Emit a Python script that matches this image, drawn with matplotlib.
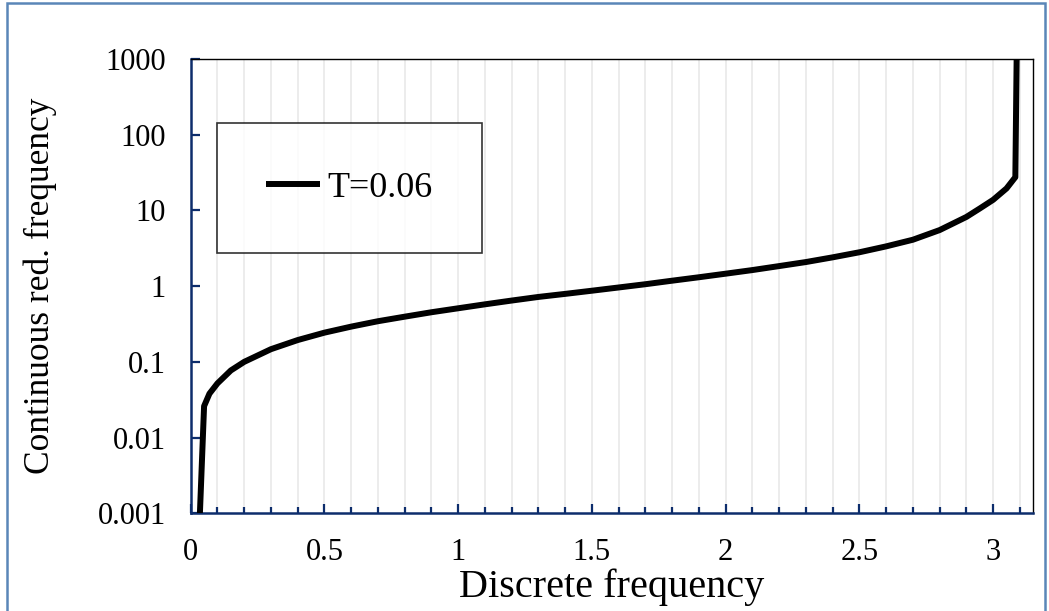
import matplotlib
matplotlib.use("Agg")
import matplotlib.pyplot as plt
from matplotlib.patches import Rectangle
from matplotlib.ticker import MultipleLocator, FixedLocator, FixedFormatter

# values
disc_freq = [0.03, 0.05, 0.07, 0.1, 0.15, 0.2, 0.3, 0.4, 0.5, 0.6, 0.7, 0.8, 0.9,
             1.0, 1.1, 1.2, 1.3, 1.4, 1.5, 1.6, 1.7, 1.8, 1.9, 2.0, 2.1, 2.2,
             2.3, 2.4, 2.5, 2.6, 2.7, 2.8, 2.9, 2.95, 3.0, 3.05, 3.083, 3.094]
cont_freq = [0.0004, 0.026, 0.038, 0.052, 0.077, 0.1, 0.147, 0.194, 0.243, 0.292,
             0.344, 0.395, 0.452, 0.51, 0.575, 0.645, 0.72, 0.79, 0.87, 0.96,
             1.06, 1.18, 1.31, 1.46, 1.63, 1.84, 2.08, 2.4, 2.8, 3.35, 4.1, 5.5,
             8.2, 10.6, 13.8, 19.5, 27.5, 1e5]
series_label = "T=0.06"
y_ticks = [0.001, 0.01, 0.1, 1, 10, 100, 1000]
y_tick_labels = ["0.001", "0.01", "0.1", "1", "10", "100", "1000"]
x_ticks = [0, 0.5, 1, 1.5, 2, 2.5, 3]
x_tick_labels = ["0", "0.5", "1", "1.5", "2", "2.5", "3"]

navy = "#0D2D6C"
plt.rcParams["font.family"] = ["Liberation Serif", "DejaVu Serif"]

fig = plt.figure(figsize=(10.49, 6.11), dpi=100)
fig.patches.append(Rectangle((7 / 1049, -0.01), 1038 / 1049, 1 - 3 / 611 + 0.01,
                             transform=fig.transFigure, fill=False,
                             edgecolor="#5A86B8", linewidth=1.8))
ax = fig.add_axes([0.1818, 0.1599, 0.8032, 0.7436])

ax.plot(disc_freq, cont_freq, color="black", linewidth=4.3, label=series_label,
        solid_joinstyle="round", solid_capstyle="butt", zorder=3)

ax.set_yscale("log")
ax.set_ylim(0.001, 1000)
ax.set_xlim(0, 3.15)
ax.yaxis.set_major_locator(FixedLocator(y_ticks))
ax.yaxis.set_major_formatter(FixedFormatter(y_tick_labels))
ax.yaxis.set_minor_locator(FixedLocator([]))
ax.xaxis.set_major_locator(FixedLocator(x_ticks))
ax.xaxis.set_major_formatter(FixedFormatter(x_tick_labels))
ax.xaxis.set_minor_locator(MultipleLocator(0.1))

ax.grid(which="both", axis="x", color="#EBEBEB", linewidth=1.3, zorder=0)
ax.set_axisbelow(True)

for side in ["left", "bottom"]:
    ax.spines[side].set_color(navy)
    ax.spines[side].set_linewidth(1.8)
for side in ["right", "top"]:
    ax.spines[side].set_color("black")
    ax.spines[side].set_linewidth(1.0)

ax.tick_params(axis="both", which="major", direction="in", length=6.5, width=1.6,
               color=navy, labelsize=22)
ax.tick_params(axis="x", which="minor", direction="in", length=4.5, width=1.6,
               color=navy)
ax.tick_params(axis="x", which="major", pad=18)
ax.tick_params(axis="y", which="major", pad=18)

ax.set_xlabel("Discrete frequency", fontsize=29, labelpad=1)
ax.set_ylabel("Continuous red. frequency", fontsize=25.5, labelpad=29)

leg = ax.legend(loc="center", bbox_to_anchor=(0.1885, 0.716), fontsize=26,
                frameon=True, fancybox=False, edgecolor="black",
                handlelength=1.5, handletextpad=0.2, borderpad=1.35)
leg.get_frame().set_linewidth(1.2)

fig.savefig("out.png", dpi=100)
